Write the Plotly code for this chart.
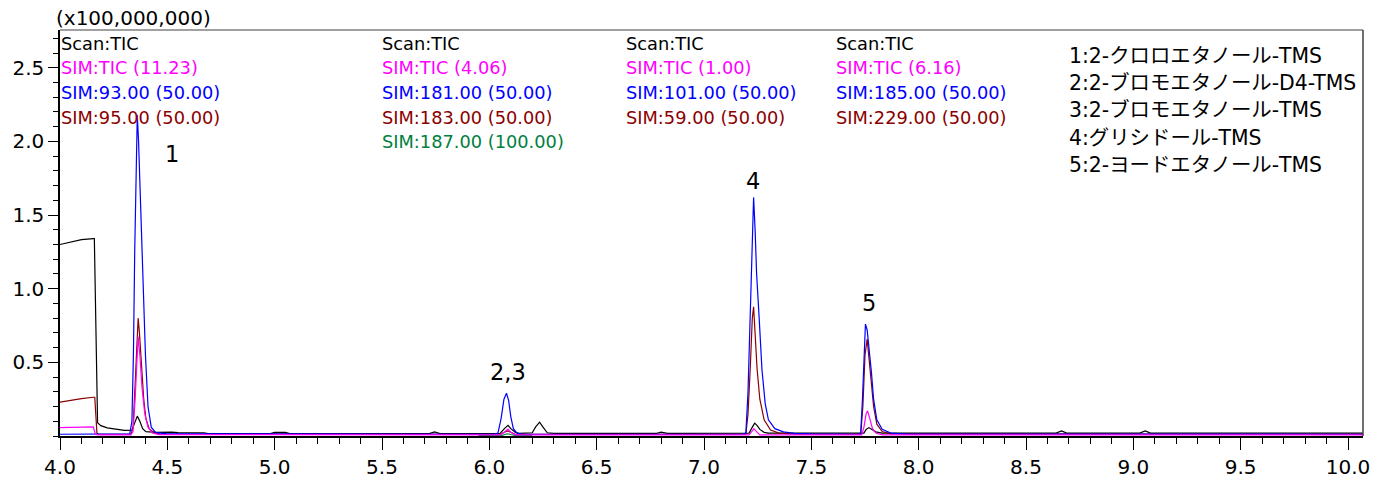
import plotly.graph_objects as go

# ---------------- data (retention time in min, intensity in x100,000,000) ----------------
black_x = [4.00, 4.05, 4.10, 4.155, 4.160, 4.175, 4.19, 4.22, 4.26, 4.30, 4.335, 4.348, 4.36, 4.372, 4.385,
           4.40, 4.45, 4.52, 4.55, 4.67, 4.69, 4.98, 5.00, 5.05, 5.07, 5.72, 5.745, 5.77, 6.05, 6.07,
           6.087, 6.10, 6.12, 6.14, 6.20, 6.215, 6.234, 6.25, 6.27, 6.30, 6.36, 6.40, 6.78, 6.80, 6.83,
           7.21, 7.225, 7.236, 7.248, 7.26, 7.28, 7.30, 7.50, 7.55, 7.60, 7.745, 7.755, 7.768, 7.78,
           7.80, 7.83, 8.64, 8.665, 8.69, 9.03, 9.055, 9.08, 10.07]
black_y = [1.30, 1.318, 1.333, 1.34, 1.34, 0.09, 0.07, 0.055, 0.045, 0.038, 0.04, 0.09, 0.135, 0.10, 0.05,
           0.03, 0.024, 0.026, 0.023, 0.022, 0.016, 0.016, 0.024, 0.024, 0.016, 0.016, 0.028, 0.016, 0.018, 0.05,
           0.072, 0.05, 0.025, 0.018, 0.022, 0.06, 0.094, 0.06, 0.022, 0.018, 0.02, 0.018, 0.018, 0.026, 0.018,
           0.02, 0.06, 0.087, 0.07, 0.045, 0.025, 0.02, 0.02, 0.022, 0.019, 0.02, 0.045, 0.057, 0.045,
           0.028, 0.02, 0.02, 0.034, 0.02, 0.02, 0.034, 0.02, 0.02]

red_x = [4.00, 4.05, 4.10, 4.155, 4.162, 4.172, 4.18, 4.33, 4.34, 4.35, 4.358, 4.364, 4.37, 4.38, 4.39,
         4.40, 4.415, 4.44, 4.48, 5.00, 5.50, 6.05, 6.07, 6.085, 6.10, 6.12, 7.195, 7.205, 7.215, 7.225,
         7.231, 7.238, 7.247, 7.26, 7.28, 7.31, 7.35, 7.42, 7.73, 7.74, 7.75, 7.76, 7.77, 7.78, 7.79,
         7.805, 7.83, 7.87, 10.07]
red_y = [0.23, 0.243, 0.254, 0.263, 0.263, 0.02, 0.012, 0.012, 0.05, 0.35, 0.65, 0.80, 0.70, 0.45, 0.25,
         0.12, 0.05, 0.02, 0.012, 0.013, 0.013, 0.012, 0.025, 0.035, 0.025, 0.012, 0.012, 0.15, 0.45, 0.80,
         0.877, 0.70, 0.46, 0.25, 0.11, 0.04, 0.02, 0.013, 0.012, 0.2, 0.55, 0.658, 0.50, 0.35, 0.20,
         0.08, 0.03, 0.015, 0.011]

blue_x = [4.00, 4.30, 4.325, 4.335, 4.342, 4.348, 4.354, 4.36, 4.366, 4.374, 4.386, 4.398, 4.41, 4.425,
          4.445, 4.50, 6.02, 6.04, 6.055, 6.068, 6.08, 6.09, 6.10, 6.112, 6.13, 6.16, 7.18, 7.195, 7.205,
          7.215, 7.225, 7.231, 7.238, 7.245, 7.257, 7.27, 7.285, 7.30, 7.33, 7.37, 7.42, 7.50, 7.72, 7.73,
          7.738, 7.746, 7.752, 7.76, 7.77, 7.78, 7.79, 7.805, 7.83, 7.87, 7.95, 10.07]
blue_y = [0.012, 0.012, 0.015, 0.10, 0.55, 1.25, 1.90, 2.18, 2.00, 1.60, 1.09, 0.55, 0.20, 0.06,
          0.025, 0.015, 0.012, 0.02, 0.12, 0.25, 0.29, 0.24, 0.13, 0.05, 0.018, 0.012, 0.012, 0.02, 0.30,
          0.85, 1.45, 1.62, 1.40, 1.10, 0.80, 0.45, 0.22, 0.11, 0.05, 0.028, 0.018, 0.014, 0.012, 0.02,
          0.25, 0.60, 0.76, 0.72, 0.58, 0.43, 0.25, 0.11, 0.045, 0.02, 0.013, 0.012]

magenta_x = [4.00, 4.155, 4.165, 4.18, 4.33, 4.34, 4.35, 4.358, 4.364, 4.372, 4.382, 4.395, 4.41, 4.43,
             4.46, 6.05, 6.07, 6.087, 6.10, 6.12, 7.21, 7.225, 7.232, 7.245, 7.26, 7.735, 7.745, 7.755,
             7.762, 7.772, 7.785, 7.80, 7.83, 10.07]
magenta_y = [0.057, 0.062, 0.01, 0.007, 0.007, 0.03, 0.25, 0.55, 0.675, 0.55, 0.33, 0.15, 0.06, 0.02,
             0.009, 0.008, 0.025, 0.047, 0.025, 0.008, 0.008, 0.035, 0.05, 0.03, 0.008, 0.008, 0.06, 0.15,
             0.171, 0.12, 0.05, 0.02, 0.008, 0.008]

green_x = [5.95, 6.06, 6.075, 6.085, 6.10, 6.12, 6.20]
green_y = [0.004, 0.004, 0.012, 0.015, 0.01, 0.004, 0.004]

# ---------------- labels ----------------
col_texts = [
    ["Scan:TIC", "SIM:TIC (11.23)", "SIM:93.00 (50.00)", "SIM:95.00 (50.00)"],
    ["Scan:TIC", "SIM:TIC (4.06)", "SIM:181.00 (50.00)", "SIM:183.00 (50.00)", "SIM:187.00 (100.00)"],
    ["Scan:TIC", "SIM:TIC (1.00)", "SIM:101.00 (50.00)", "SIM:59.00 (50.00)"],
    ["Scan:TIC", "SIM:TIC (6.16)", "SIM:185.00 (50.00)", "SIM:229.00 (50.00)"],
]
compounds = ["1:2-クロロエタノール-TMS", "2:2-ブロモエタノール-D4-TMS", "3:2-ブロモエタノール-TMS",
             "4:グリシドール-TMS", "5:2-ヨードエタノール-TMS"]
peak_labels = ["1", "2,3", "4", "5"]
x_ticks = [4.0, 4.5, 5.0, 5.5, 6.0, 6.5, 7.0, 7.5, 8.0, 8.5, 9.0, 9.5, 10.0]
y_ticks = [0.5, 1.0, 1.5, 2.0, 2.5]

# ---------------- styling ----------------
C_BLACK = "#000000"
C_RED = "#8B0000"
C_BLUE = "#0000FF"
C_MAG = "#FF00FF"
C_GREEN = "#008040"
row_colors = [C_BLACK, C_MAG, C_BLUE, C_RED, C_GREEN]
FONT = "DejaVu Sans, Noto Sans CJK JP, sans-serif"

W, H = 1386, 491
# plot area in page pixels
L, R, T, B = 58, 1363, 30, 449


def px(xpix):
    return (xpix - L) / (R - L)


def py(ypix):
    return (B - ypix) / (B - T)


fig = go.Figure()
for xs, ys, c in [(green_x, green_y, C_GREEN), (black_x, black_y, C_BLACK), (red_x, red_y, C_RED),
                  (blue_x, blue_y, C_BLUE), (magenta_x, magenta_y, C_MAG)]:
    fig.add_trace(go.Scatter(x=xs, y=ys, mode="lines", line=dict(color=c, width=1.2),
                             showlegend=False, hoverinfo="skip"))

ann = []
col_x = [57, 378, 623, 833]
row_y = [44, 69, 95, 120, 145]
for cx, texts in zip(col_x, col_texts):
    for i, t in enumerate(texts):
        ann.append(dict(x=px(cx), y=py(row_y[i]), xref="paper", yref="paper", text=t, showarrow=False,
                        xanchor="left", yanchor="middle", font=dict(family=FONT, size=17.8, color=row_colors[i])))
for i, t in enumerate(compounds):
    ann.append(dict(x=px(1067), y=py(57 + 28 * i), xref="paper", yref="paper", text=t, showarrow=False,
                    xanchor="left", yanchor="middle", font=dict(family=FONT, size=20.4, color="black")))
for t, (lx, ly) in zip(peak_labels, [(170, 158), (507, 383), (752, 186), (868, 312)]):
    ann.append(dict(x=px(lx), y=py(ly), xref="paper", yref="paper", text=t, showarrow=False,
                    xanchor="center", yanchor="middle", font=dict(family=FONT, size=22.5, color="black")))
ann.append(dict(x=px(52), y=py(18), xref="paper", yref="paper", text="(x100,000,000)", showarrow=False,
                xanchor="left", yanchor="middle", font=dict(family=FONT, size=20, color="black")))

x_range = [4.0, 4.0 + (R - L) / 215.0]
y_range = [0.0, (B - T) / 152.0]

fig.update_layout(
    width=W, height=H,
    margin=dict(l=L, r=W - R, t=T, b=H - B),
    paper_bgcolor="white", plot_bgcolor="white",
    annotations=ann,
    shapes=[
        dict(type="line", xref="paper", yref="paper", x0=0, x1=1, y0=1, y1=1, line=dict(color="#808080", width=1.5)),
        dict(type="line", xref="paper", yref="paper", x0=1, x1=1, y0=0, y1=1, line=dict(color="#404040", width=1.5)),
    ],
    xaxis=dict(range=x_range, tickvals=x_ticks, ticktext=[f"{v:.1f}" for v in x_ticks],
               showgrid=False, zeroline=False, showline=True, linecolor="black", linewidth=1.5,
               ticks="outside", ticklen=12, tickwidth=1, tickcolor="black",
               tickfont=dict(family=FONT, size=20, color="black"),
               minor=dict(dtick=0.1, tick0=4.0, ticks="outside", ticklen=6, tickcolor="black", tickwidth=1)),
    yaxis=dict(range=y_range, tickvals=y_ticks, ticktext=[f"{v:.1f}" for v in y_ticks],
               showgrid=False, zeroline=False, showline=True, linecolor="black", linewidth=1.5,
               ticks="outside", ticklen=10, tickwidth=1, tickcolor="black",
               tickfont=dict(family=FONT, size=20, color="black"),
               minor=dict(dtick=0.1, tick0=0, ticks="outside", ticklen=5, tickcolor="black", tickwidth=1)),
)

# remove the browser's default 8px body margin so the figure fills the window exactly
fig.write_html("out.html", config={"displayModeBar": False},
               post_script="document.body.style.margin='0';document.documentElement.style.overflow='hidden';")
